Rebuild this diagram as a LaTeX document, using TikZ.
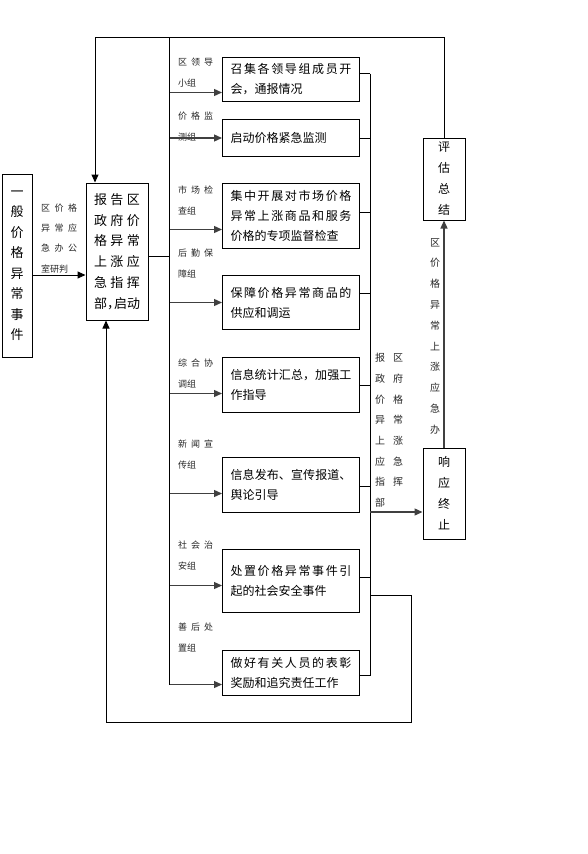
\documentclass[tikz,border=0pt]{standalone}
\usepackage{fontspec}
\setmainfont{Noto Sans CJK SC}
\usetikzlibrary{arrows.meta}
\XeTeXlinebreaklocale "zh"
\XeTeXlinebreakskip=0pt plus 4pt

\begin{document}
\begin{tikzpicture}[x=1pt, y=-1pt, >={Triangle[length=8pt,width=7pt]},
  box/.style={draw, line width=1pt, inner xsep=8pt, inner ysep=0pt, align=justify,
              font=\fontsize{12}{20}\selectfont},
  task/.style={box, anchor=north west, text width=121pt, minimum width=137pt},
  col/.style={draw, line width=1pt, inner sep=0pt, align=center, text width=14pt,
              font=\fontsize{12}{21}\selectfont},
  tag/.style={anchor=north west, inner sep=0pt, align=justify, text width=35pt,
              text=black!85, font=\fontsize{9}{21}\selectfont},
  wire/.style={draw, line width=1pt},
  arr/.style={->, draw=black!75, line width=1.3pt},
  fb/.style={->, draw, line width=1pt}]

\useasboundingbox (0,0) rectangle (587,854);

% ---- event and command post ------------------------------------------------------
\node[col, minimum width=30pt, minimum height=183pt, font=\fontsize{13}{20.5}\selectfont]
  (event) at (17,265.5) {一\\般\\价\\格\\异\\常\\事\\件};
\node[box, minimum height=137pt, text width=46pt, font=\fontsize{13}{20.7}\selectfont]
  (hq) at (117,251.5)
  {报告区\linebreak 政府价\linebreak 格异常\linebreak 上涨应\linebreak 急指挥\linebreak
   部\makebox[7pt][l]{，}启动};
\node[tag, text width=36pt, font=\fontsize{9}{20.3}\selectfont] (judge) at (41,203.5)
  {区价格\linebreak 异常应\linebreak 急办公\linebreak 室研判};

% ---- the eight working groups ----------------------------------------------------
\node[task, minimum height=44pt] (t1) at (222,57)  {召集各领导组成员开\linebreak 会，通报情况};
\node[task, minimum height=37pt] (t2) at (222,119) {启动价格紧急监测};
\node[task, minimum height=65pt] (t3) at (222,183)
  {集中开展对市场价格\linebreak 异常上涨商品和服务\linebreak 价格的专项监督检查};
\node[task, minimum height=54pt] (t4) at (222,275) {保障价格异常商品的\linebreak 供应和调运};
\node[task, minimum height=55pt] (t5) at (222,357) {信息统计汇总，加强工\linebreak 作指导};
\node[task, minimum height=55pt] (t6) at (222,457) {信息发布、宣传报道、\linebreak 舆论引导};
\node[task, minimum height=63pt] (t7) at (222,549)
  {处置价格异常事件引\linebreak 起的社会安全事件\par\vspace*{14pt}};
\node[task, minimum height=45pt] (t8) at (222,650) {做好有关人员的表彰\linebreak 奖励和追究责任工作};

\node[tag] (g1) at (178,57.5)  {区领导\linebreak 小组};
\node[tag] (g2) at (178,111.5) {价格监\linebreak 测组};
\node[tag] (g3) at (178,185.5) {市场检\linebreak 查组};
\node[tag] (g4) at (178,248.5) {后勤保\linebreak 障组};
\node[tag] (g5) at (178,358.5) {综合协\linebreak 调组};
\node[tag] (g6) at (178,439.5) {新闻宣\linebreak 传组};
\node[tag] (g7) at (178,540.5) {社会治\linebreak 安组};
\node[tag] (g8) at (178,622.5) {善后处\linebreak 置组};

% ---- closing boxes on the right --------------------------------------------------
\node[col, minimum width=42pt, minimum height=82pt] (assess) at (444,179) {评\\估\\总\\结};
\node[col, minimum width=42pt, minimum height=91pt] (stop) at (444,493.5) {响\\应\\终\\止};
\node[tag, text width=28pt, font=\fontsize{10}{20.7}\selectfont] (report) at (375,353)
  {报区\linebreak 政府\linebreak 价格\linebreak 异常\linebreak 上涨\linebreak 应急\linebreak
   指挥\linebreak 部};
\node[tag, text width=10pt, align=center, font=\fontsize{10}{20.8}\selectfont] (office)
  at (430,238) {区\\价\\格\\异\\常\\上\\涨\\应\\急\\办};

% ---- buses -----------------------------------------------------------------------
\coordinate (bus) at (169,37);
\coordinate (rbus) at (370,0);
\coordinate (topL) at (95,37);

\foreach \t/\d in {t1/13, t2/0, t3/13.5, t4/0, t5/8.5, t6/8.5, t7/4.5, t8/11.5} {
  \path (\t.west) ++(0,\d) coordinate (in\t);
  \draw[arr] (in\t -| bus) -- (in\t);
}
\foreach \t/\d in {t1/-6, t2/0, t3/-3.5, t4/-9, t5/0, t6/1.5, t7/-3.5, t8/2.5} {
  \path (\t.east) ++(0,\d) coordinate (out\t);
  \draw[wire] (out\t) -- (out\t -| rbus);
}
\draw[wire] (bus) -- (bus |- int8);
\draw[wire] (outt1 -| rbus) -- (outt8 -| rbus);

% ---- links -----------------------------------------------------------------------
\path (event.east) ++(0,9.5) coordinate (evout);
\draw[fb] (evout) -- (evout -| hq.west);
\path (hq.east) ++(0,4.5) coordinate (hqout);
\draw[wire] (hqout) -- (hqout -| bus);

\path (stop.west) ++(0,18.5) coordinate (stopin);
\draw[arr] (stopin -| rbus) -- (stopin);
\draw[arr] (stop.north) -- (assess.south);
\draw[fb] (assess.north) |- (topL) -- (topL |- hq.north);

\coordinate (fbstart) at (370,595);
\coordinate (fbcorner) at (411,722);
\coordinate (fbL) at (106,722);
\draw[fb] (fbstart) -| (fbcorner) -- (fbL) -- (fbL |- hq.south);

\end{tikzpicture}
\end{document}
